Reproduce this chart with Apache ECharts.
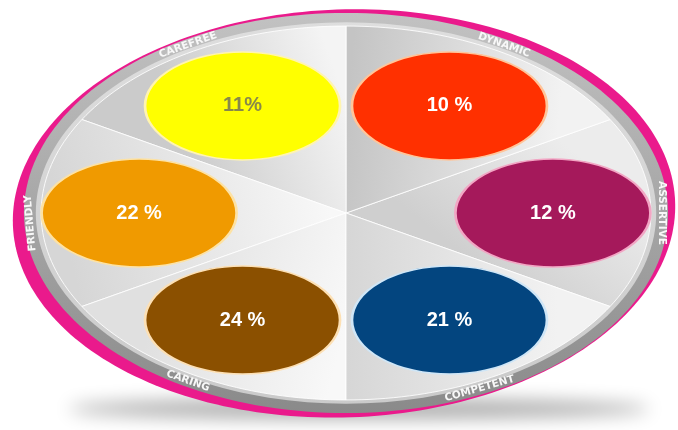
<!DOCTYPE html>
<html>
<head>
<meta charset="utf-8">
<script src="https://cdn.jsdelivr.net/npm/echarts@6/dist/echarts.min.js"></script>
<style>
  html, body { margin: 0; padding: 0; background: #ffffff; }
  #chart { width: 678px; height: 430px; }
</style>
</head>
<body>
<div id="chart"></div>
<script>
// Personality traits, in ring order, counter-clockwise from the right-hand slot
const traits = ['ASSERTIVE', 'DYNAMIC', 'CAREFREE', 'FRIENDLY', 'CARING', 'COMPETENT'];
const shares = [12, 10, 11, 22, 24, 21];

// Styling per trait
const percentGap = [' ', ' ', '', ' ', ' ', ' '];
const bubbleColors = ['#a5195b', '#ff3000', '#ffff00', '#f09a00', '#8b5000', '#03457f'];
const bubbleEdges = ['#f2a6c4', '#ffc59a', '#fff4b0', '#fde2a4', '#fde0b4', '#cfe6f7'];
const labelColors = ['#ffffff', '#ffffff', '#88884a', '#ffffff', '#ffffff', '#ffffff'];
// Sector shading: gradient runs from [angle deg, radius fraction] to [angle deg, radius fraction]
const sectorShades = [
  { from: [30, 0.8], to: [-30, 0.45], colors: ['#ececec', '#cfcfcf'] },
  { from: [90, 0.5], to: [30, 0.8], colors: ['#c4c4c4', '#f2f2f2'] },
  { from: [90, 0.6], to: [150, 0.6], colors: ['#f4f4f4', '#cbcbcb'] },
  { from: [180, 0.05], to: [200, 0.95], colors: ['#f8f8f8', '#d6d6d6'] },
  { from: [210, 0.7], to: [270, 0.6], colors: ['#e0e0e0', '#f8f8f8'] },
  { from: [270, 0.4], to: [330, 0.8], colors: ['#d6d6d6', '#f2f2f2'] }
];
// Small angular nudges (degrees) for the rim captions
const labelNudge = [0, 0, 0, 3, 0, -5];

const D2R = Math.PI / 180;
const slotAngle = i => i * 60 * D2R;

// Dish geometry in axis units (both axes run from -1 to 1)
const PINK = { rx: 1.004, ry: 0.995, dx: -0.006, dy: -0.002, rot: 2 * D2R };
const RING = { rx: 0.976, ry: 0.976 };
const BAND = { rx: 0.94, ry: 0.93 };
const FACE = { rx: 0.924, ry: 0.912 };
const CAPTION = { rx: 0.958, ry: 0.946 };
const BUBBLE = { rx: 0.627, ry: 0.603 };

function ellipsePoints(cx, cy, rx, ry, rot, n) {
  const pts = [];
  const c = Math.cos(rot), s = Math.sin(rot);
  for (let k = 0; k < n; k++) {
    const t = 2 * Math.PI * k / n;
    const x = rx * Math.cos(t), y = ry * Math.sin(t);
    pts.push([cx + x * c - y * s, cy - (x * s + y * c)]);
  }
  return pts;
}

function renderBackdrop(params, api) {
  const c = api.coord([0, 0]);
  const u = api.size([1, 1]);
  const ring = (e) => ellipsePoints(c[0], c[1], e.rx * u[0], e.ry * u[1], 0, 200);
  const top = c[1] - RING.ry * u[1], bottom = c[1] + RING.ry * u[1];
  return {
    type: 'group',
    children: [
      // floor shadow: the shape sits off-canvas, only its blurred shadow lands under the dish
      {
        type: 'polygon',
        shape: { points: ellipsePoints(c[0] + 0.04 * u[0], c[1] + 0.955 * u[1] - 2000, 0.88 * u[0], 0.05 * u[1], 0, 120) },
        style: { fill: '#000', shadowColor: 'rgba(0,0,0,0.33)', shadowBlur: 18, shadowOffsetY: 2000 }
      },
      {
        type: 'polygon',
        shape: { points: ellipsePoints(c[0] + PINK.dx * u[0], c[1] - PINK.dy * u[1], PINK.rx * u[0], PINK.ry * u[1], PINK.rot, 240) },
        style: { fill: '#ea1a8c' }
      },
      {
        type: 'polygon',
        shape: { points: ring(RING) },
        style: {
          fill: new echarts.graphic.LinearGradient(0, top, 0, bottom, [
            { offset: 0, color: '#c2c2c2' },
            { offset: 0.5, color: '#a6a6a6' },
            { offset: 1, color: '#8a8a8a' }
          ], true)
        }
      },
      {
        type: 'polygon',
        shape: { points: ring(BAND) },
        style: {
          fill: new echarts.graphic.LinearGradient(0, top, 0, bottom, [
            { offset: 0, color: '#dedede' },
            { offset: 1, color: '#cacaca' }
          ], true)
        }
      }
    ]
  };
}

function renderSector(params, api) {
  const i = params.dataIndex;
  const c = api.coord([0, 0]);
  const u = api.size([1, 1]);
  const rx = FACE.rx * u[0], ry = FACE.ry * u[1];
  const a0 = slotAngle(i) - 30 * D2R, a1 = slotAngle(i) + 30 * D2R;
  const pts = [[c[0], c[1]]];
  for (let k = 0; k <= 40; k++) {
    const t = a0 + (a1 - a0) * k / 40;
    pts.push([c[0] + rx * Math.cos(t), c[1] - ry * Math.sin(t)]);
  }
  const shade = sectorShades[i];
  const at = (p) => [c[0] + p[1] * rx * Math.cos(p[0] * D2R), c[1] - p[1] * ry * Math.sin(p[0] * D2R)];
  const m0 = at(shade.from), m1 = at(shade.to);
  return {
    type: 'polygon',
    shape: { points: pts },
    style: {
      fill: new echarts.graphic.LinearGradient(m0[0], m0[1], m1[0], m1[1], [
        { offset: 0, color: shade.colors[0] },
        { offset: 1, color: shade.colors[1] }
      ], true),
      stroke: 'rgba(255,255,255,0.85)',
      lineWidth: 1
    }
  };
}

function renderCaption(params, api) {
  const i = params.dataIndex;
  const c = api.coord([0, 0]);
  const u = api.size([1, 1]);
  const rx = CAPTION.rx * u[0], ry = CAPTION.ry * u[1];
  const t = slotAngle(i) + labelNudge[i] * D2R;
  // follow the rim clockwise; captions on the lower rim are flipped to stay upright
  let ang = Math.atan2(-ry * Math.cos(t), rx * Math.sin(t));
  if (Math.sin(t) < -0.5) ang += ang > 0 ? -Math.PI : Math.PI;
  return {
    type: 'text',
    x: c[0] + rx * Math.cos(t),
    y: c[1] - ry * Math.sin(t),
    rotation: ang,
    style: {
      text: traits[i],
      fill: '#f8f8f8',
      font: 'bold 10.5px "DejaVu Sans", sans-serif',
      align: 'center',
      verticalAlign: 'middle',
      shadowColor: 'rgba(0,0,0,0.55)',
      shadowBlur: 2
    }
  };
}

const chart = echarts.init(document.getElementById('chart'));
chart.setOption({
  animation: false,
  backgroundColor: '#ffffff',
  grid: { left: 16, top: 8, width: 660, height: 410 },
  xAxis: { type: 'value', min: -1, max: 1, show: false },
  yAxis: { type: 'value', min: -1, max: 1, show: false },
  series: [
    {
      type: 'custom', z: 1, silent: true,
      renderItem: renderBackdrop,
      data: [[0, 0]]
    },
    {
      type: 'custom', z: 2, silent: true,
      renderItem: renderSector,
      data: traits.map(() => [0, 0])
    },
    {
      type: 'custom', z: 3, silent: true,
      renderItem: renderCaption,
      data: traits.map(() => [0, 0])
    },
    {
      type: 'scatter', z: 4, silent: true,
      symbol: 'circle',
      symbolSize: [195, 108],
      itemStyle: { borderWidth: 2, opacity: 1 },
      label: {
        show: true,
        position: 'inside',
        formatter: p => shares[p.dataIndex] + percentGap[p.dataIndex] + '%',
        fontSize: 20,
        fontWeight: 'bold',
        fontFamily: '"Liberation Sans", Arial, sans-serif'
      },
      emphasis: { disabled: true },
      data: traits.map((t, i) => ({
        name: t,
        value: [BUBBLE.rx * Math.cos(slotAngle(i)), BUBBLE.ry * Math.sin(slotAngle(i))],
        itemStyle: { color: bubbleColors[i], borderColor: bubbleEdges[i] },
        label: { color: labelColors[i] }
      }))
    }
  ]
});
</script>
</body>
</html>
